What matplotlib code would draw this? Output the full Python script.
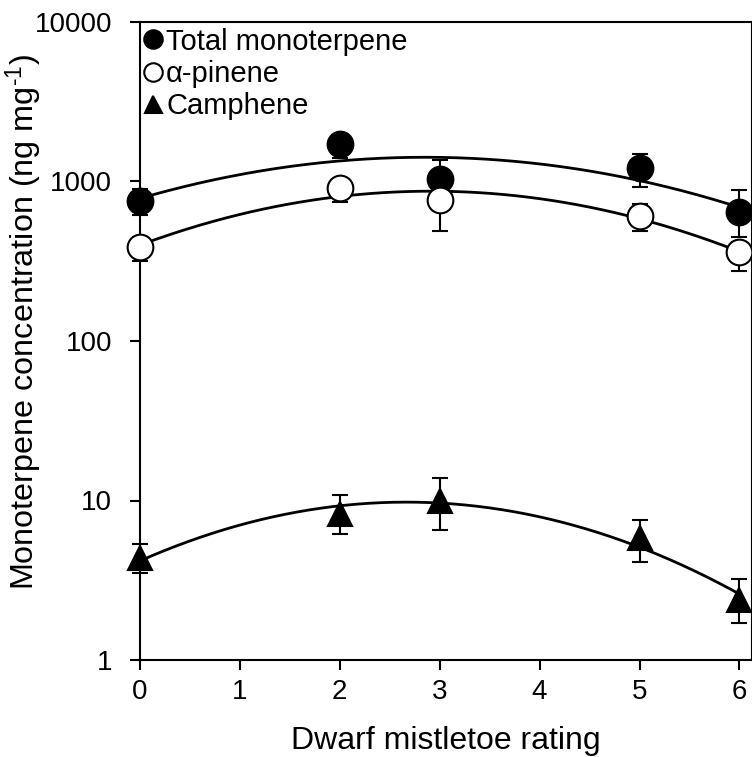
import numpy as np
import matplotlib
matplotlib.use("Agg")
import matplotlib.pyplot as plt
from matplotlib.ticker import FixedLocator, FixedFormatter, NullLocator

plt.rcParams['font.family'] = ['Liberation Sans', 'DejaVu Sans']
plt.rcParams['mathtext.fontset'] = 'custom'
plt.rcParams['mathtext.rm'] = 'Liberation Sans'
plt.rcParams['mathtext.it'] = 'Liberation Sans'

rating = [0, 2, 3, 5, 6]

total = [757, 1718, 1033, 1210, 641]
total_hi = [900, 1950, 1364, 1480, 885]
total_lo = [620, 1400, 850, 927, 451]

alpha = [391, 906, 765, 608, 360]
alpha_hi = [450, 1040, 900, 720, 420]
alpha_lo = [319, 743, 491, 490, 276]

camph = [4.36, 8.2, 10.0, 5.8, 2.38]
camph_hi = [5.3, 10.8, 13.8, 7.5, 3.2]
camph_lo = [3.5, 6.2, 6.5, 4.1, 1.71]

labels = ["Total monoterpene", "\u03b1-pinene", "Camphene"]
yticks = [1, 10, 100, 1000, 10000]
yticklabels = ["1", "10", "100", "1000", "10000"]
xticks = [0, 1, 2, 3, 4, 5, 6]

W, H = 752, 757
fig = plt.figure(figsize=(W / 100, H / 100), dpi=100)
px_unit = 99.9
xmax = (W - 140) / px_unit
ax = fig.add_axes([140 / W, 1 - 660 / H, (W - 140) / W, (660 - 22) / H])
ax.set_yscale('log')
ax.set_xlim(0, xmax)
ax.set_ylim(1, 10000)

xs = np.linspace(0, 6, 200)
series = [
    (total, total_hi, total_lo, 'o', 'black'),
    (alpha, alpha_hi, alpha_lo, 'o', 'white'),
    (camph, camph_hi, camph_lo, '^', 'black'),
]
handles = []
for (v, hi, lo, m, fc), lab in zip(series, labels):
    v = np.array(v, float)
    coef = np.polyfit(rating, np.log10(v), 2)
    ax.plot(xs, 10 ** np.polyval(coef, xs), color='black', lw=2, zorder=2, clip_on=False)
    yerr = [v - np.array(lo), np.array(hi) - v]
    ax.errorbar(rating, v, yerr=yerr, fmt='none', ecolor='black', elinewidth=1.5,
                capsize=6, capthick=1.5, zorder=3, clip_on=False)
    ms = 18.5 if m == 'o' else 17
    h, = ax.plot(rating, v, linestyle='none', marker=m, markersize=ms, markerfacecolor=fc,
                 markeredgecolor='black', markeredgewidth=1.5, zorder=4, clip_on=False, label=lab)
    handles.append(h)

ax.xaxis.set_major_locator(FixedLocator(xticks))
ax.set_xticklabels([str(t) for t in xticks])
ax.yaxis.set_major_locator(FixedLocator(yticks))
ax.yaxis.set_major_formatter(FixedFormatter(yticklabels))
ax.yaxis.set_minor_locator(NullLocator())
ax.tick_params(axis='both', which='major', direction='out', length=7, width=1.5,
               labelsize=20, colors='black')
ax.tick_params(axis='y', pad=13)
ax.tick_params(axis='x', pad=7)
for s in ax.spines.values():
    s.set_linewidth(1.5)

ax.set_xlabel("Dwarf mistletoe rating", fontsize=23)
ax.xaxis.set_label_coords(0.5, -(757 - 660 - 1) / 638)
ax.xaxis.label.set_va('bottom')
ax.set_ylabel("Monoterpene concentration (ng mg$^{\\text{-1}}$)", fontsize=23.3)
ax.yaxis.set_label_coords((45 - 140) / (W - 140), (660 - 322) / 638)

leg = ax.legend(handles=handles, labels=labels, loc='upper left', bbox_to_anchor=(-0.012, 1.0094),
                frameon=False, fontsize=21, handlelength=0.6, handletextpad=0.15,
                labelspacing=0.15, borderaxespad=0.0, markerscale=0.72)

fig.savefig("out.png", dpi=100)
